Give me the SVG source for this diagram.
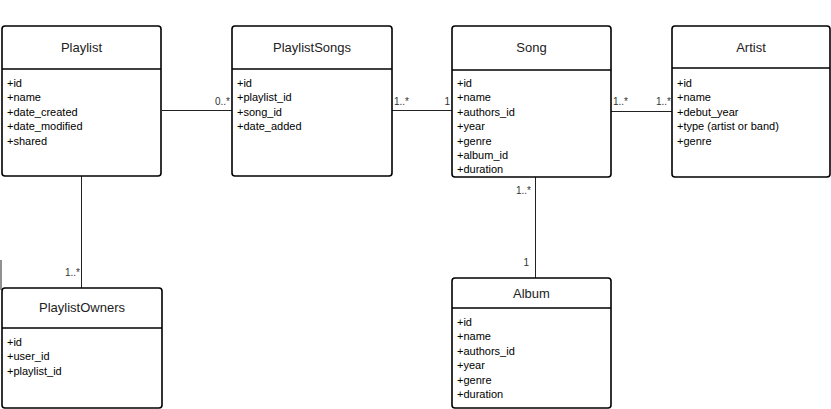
<svg xmlns="http://www.w3.org/2000/svg" width="831" height="409" viewBox="0 0 831 409">
<style>
.box{fill:#fff;stroke:#000;stroke-width:1.6}
.div{stroke:#000;stroke-width:1.6}
.t{font-family:"Liberation Sans",Arial,sans-serif;font-size:13px;fill:#222;text-anchor:middle}
.a{font-family:"Liberation Sans",Arial,sans-serif;font-size:11px;fill:#000}
.e{stroke:#222;stroke-width:1;fill:none}
.l{font-family:"Liberation Sans",Arial,sans-serif;font-size:10px;fill:#333}
</style>
<rect width="831" height="409" fill="#fff"/>
<g id="connectors">
<line class="e" x1="162" y1="110.5" x2="232" y2="110.5"/>
<line class="e" x1="392" y1="110.5" x2="452" y2="110.5"/>
<line class="e" x1="611" y1="111.5" x2="672" y2="111.5"/>
<line class="e" x1="81.5" y1="176" x2="81.5" y2="288"/>
<line class="e" x1="535.5" y1="177" x2="535.5" y2="278"/>
<line class="e" x1="1" y1="260" x2="1" y2="290"/>
<text class="l" x="230" y="105" text-anchor="end">0..*</text>
<text class="l" x="394" y="105">1..*</text>
<text class="l" x="450" y="105" text-anchor="end">1</text>
<text class="l" x="613" y="105">1..*</text>
<text class="l" x="671" y="105" text-anchor="end">1..*</text>
<text class="l" x="80" y="276" text-anchor="end">1..*</text>
<text class="l" x="531" y="194" text-anchor="end">1..*</text>
<text class="l" x="529" y="266" text-anchor="end">1</text>
</g>
<g id="Playlist">
<rect class="box" x="2" y="26" width="159" height="150" rx="3"/>
<line class="div" x1="2" y1="69" x2="161" y2="69"/>
<text class="t" x="81.5" y="52">Playlist</text>
<text class="a" x="7" y="86.5">+id</text>
<text class="a" x="7" y="101">+name</text>
<text class="a" x="7" y="115.5">+date_created</text>
<text class="a" x="7" y="130">+date_modified</text>
<text class="a" x="7" y="144.5">+shared</text>
</g>
<g id="PlaylistSongs">
<rect class="box" x="232" y="26" width="160" height="150" rx="3"/>
<line class="div" x1="232" y1="69" x2="392" y2="69"/>
<text class="t" x="312" y="52">PlaylistSongs</text>
<text class="a" x="237" y="86.5">+id</text>
<text class="a" x="237" y="101">+playlist_id</text>
<text class="a" x="237" y="115.5">+song_id</text>
<text class="a" x="237" y="130">+date_added</text>
</g>
<g id="Song">
<rect class="box" x="452" y="26" width="159" height="151" rx="3"/>
<line class="div" x1="452" y1="70" x2="611" y2="70"/>
<text class="t" x="531.5" y="52">Song</text>
<text class="a" x="457" y="86.5">+id</text>
<text class="a" x="457" y="101">+name</text>
<text class="a" x="457" y="115.5">+authors_id</text>
<text class="a" x="457" y="130">+year</text>
<text class="a" x="457" y="144.5">+genre</text>
<text class="a" x="457" y="159">+album_id</text>
<text class="a" x="457" y="173">+duration</text>
</g>
<g id="Artist">
<rect class="box" x="672" y="26" width="158" height="151" rx="3"/>
<line class="div" x1="672" y1="68" x2="830" y2="68"/>
<text class="t" x="751" y="52">Artist</text>
<text class="a" x="677" y="86.5">+id</text>
<text class="a" x="677" y="101">+name</text>
<text class="a" x="677" y="115.5">+debut_year</text>
<text class="a" x="677" y="130">+type (artist or band)</text>
<text class="a" x="677" y="144.5">+genre</text>
</g>
<g id="PlaylistOwners">
<rect class="box" x="2" y="288" width="160" height="120" rx="3"/>
<line class="div" x1="2" y1="328" x2="162" y2="328"/>
<text class="t" x="82" y="312">PlaylistOwners</text>
<text class="a" x="7" y="345.5">+id</text>
<text class="a" x="7" y="360">+user_id</text>
<text class="a" x="7" y="374.5">+playlist_id</text>
</g>
<g id="Album">
<rect class="box" x="452" y="278" width="159" height="130" rx="3"/>
<line class="div" x1="452" y1="308" x2="611" y2="308"/>
<text class="t" x="531.5" y="298">Album</text>
<text class="a" x="457" y="325.5">+id</text>
<text class="a" x="457" y="340">+name</text>
<text class="a" x="457" y="354.5">+authors_id</text>
<text class="a" x="457" y="369">+year</text>
<text class="a" x="457" y="383.5">+genre</text>
<text class="a" x="457" y="398">+duration</text>
</g>
</svg>
